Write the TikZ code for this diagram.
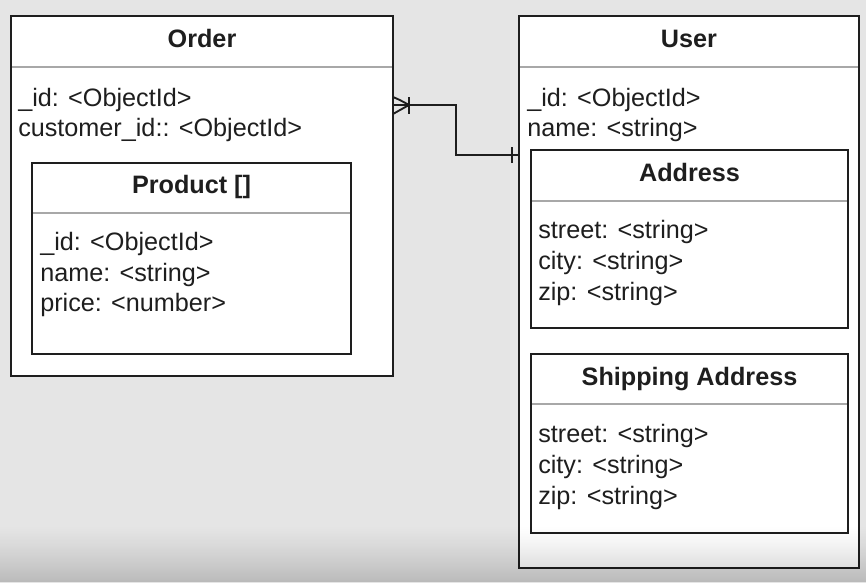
\documentclass[tikz,border=0pt]{standalone}
\usepackage{fontspec}
\setmainfont{Liberation Sans}
\usetikzlibrary{fit}
\definecolor{bg}{HTML}{E5E5E5}
\definecolor{sep}{HTML}{A8A8A8}
\definecolor{ink}{HTML}{1E1E1E}
\begin{document}
\begin{tikzpicture}[x=0.75pt,y=-0.75pt,
  box/.style={draw=ink, line width=1.4pt, fill=white, inner sep=0pt},
  sepline/.style={draw=sep, line width=1.4pt},
  title/.style={anchor=base, inner sep=0pt, font=\fontsize{18.9pt}{23pt}\selectfont\bfseries, text=ink},
  field/.style={anchor=base west, inner sep=0pt, font=\fontsize{18.9pt}{23pt}\selectfont, text=ink},
  conn/.style={draw=ink, line width=1.4pt}]
\useasboundingbox (0,0) rectangle (866,583);
\fill[bg] (0,0) rectangle (866,583);

% Order
\node[box, fit={(11,16) (393,376)}] (order) {};
\draw[sepline] (12,67) -- (392,67);
\node[title] (ordert) at (202,47) {Order};
\node[field] (of1) at (18,106) {\_id: <ObjectId>};
\node[field] (of2) at (18,136) {customer\_id:: <ObjectId>};

% Product
\node[box, fit={(32,163) (351,354)}] (product) {};
\draw[sepline] (33,213) -- (350,213);
\node[title] (productt) at (191.5,193) {Product []};
\node[field] (pf1) at (40,250) {\_id: <ObjectId>};
\node[field] (pf2) at (40,281) {name: <string>};
\node[field] (pf3) at (40,311) {price: <number>};

% User
\node[box, fit={(519,16) (859,568)}] (user) {};
\draw[sepline] (520,67) -- (858,67);
\node[title] (usert) at (689,47) {User};
\node[field] (uf1) at (527,106) {\_id: <ObjectId>};
\node[field] (uf2) at (527,136) {name: <string>};

% Address
\node[box, fit={(531,150) (848,328)}] (address) {};
\draw[sepline] (532,201) -- (847,201);
\node[title] (addresst) at (689.5,181) {Address};
\node[field] (af1) at (538,238) {street: <string>};
\node[field] (af2) at (538,269) {city: <string>};
\node[field] (af3) at (538,300) {zip: <string>};

% Shipping Address
\node[box, fit={(531,354) (848,533)}] (ship) {};
\draw[sepline] (532,404) -- (847,404);
\node[title] (shipt) at (689.5,385) {Shipping Address};
\node[field] (sf1) at (538,442) {street: <string>};
\node[field] (sf2) at (538,473) {city: <string>};
\node[field] (sf3) at (538,504) {zip: <string>};

% Connector
\coordinate (oc) at (393,105);
\coordinate (uc) at (519,155);
\draw[conn] (oc) -- (456,105) -- (456,155) -- (uc);
% crow's foot (one or many) at Order
\draw[conn] (393,97) .. controls (400,100) .. (409,105) .. controls (400,110) .. (393,114);
\draw[conn] (409,97) -- (409,114);
% one bar at User
\draw[conn] (512,147) -- (512,163);

% bottom darkening
\foreach \i in {0,...,56} {
  \pgfmathsetmacro{\op}{0.185*((\i+0.5)/57)^1.3}
  \fill[black, opacity=\op] (0,{525+\i}) rectangle (866,{526+\i});
}
\end{tikzpicture}
\end{document}
